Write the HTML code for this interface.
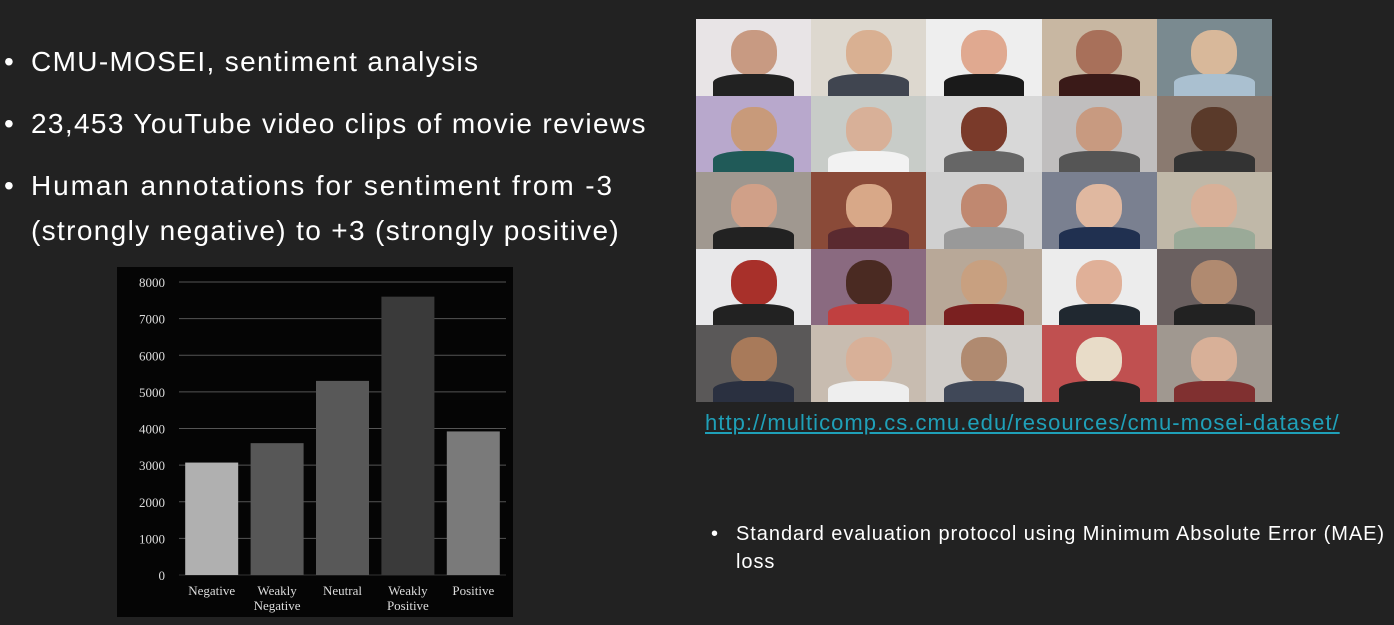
<!DOCTYPE html>
<html><head><meta charset="utf-8"><style>
body{margin:0;width:1394px;height:625px;background:#222222;position:relative;overflow:hidden;font-family:"Liberation Sans",sans-serif;color:#fff}
.b{position:absolute;font-size:28px;line-height:45px;letter-spacing:1.35px;white-space:nowrap}
.grid{position:absolute;left:696px;top:19px;width:576px;height:383px;display:grid;grid-template-columns:repeat(5,1fr);grid-template-rows:repeat(5,1fr)}
.t{position:relative;overflow:hidden}
.t i{position:absolute;left:30%;top:15%;width:40%;height:60%;border-radius:45%;background:#c99a80}
.t u{position:absolute;left:15%;bottom:0;width:70%;height:28%;border-radius:40% 40% 0 0;background:#2a2a2a}
</style></head><body>
<div class="b" style="left:4px;top:39px">•</div>
<div class="b" style="left:31px;top:39px">CMU-MOSEI, sentiment analysis</div>
<div class="b" style="left:4px;top:101px">•</div>
<div class="b" style="left:31px;top:101px">23,453 YouTube video clips of movie reviews</div>
<div class="b" style="left:4px;top:163px">•</div>
<div class="b" style="left:31px;top:163px;letter-spacing:1.9px">Human annotations for sentiment from -3</div>
<div class="b" style="left:31px;top:208px">(strongly negative) to +3 (strongly positive)</div>
<svg id="chart" style="position:absolute;left:117px;top:267px" width="396" height="350"></svg>
<div class="grid" id="grid"></div>
<div style="position:absolute;left:705px;top:410px;font-size:22px;letter-spacing:1.05px;color:#1fa0b8;text-decoration:underline;white-space:nowrap">http://multicomp.cs.cmu.edu/resources/cmu-mosei-dataset/</div>
<div style="position:absolute;left:711px;top:520px;font-size:20px;line-height:28px;letter-spacing:1px;white-space:nowrap">•</div>
<div style="position:absolute;left:736px;top:520px;font-size:20px;line-height:28px;letter-spacing:0.95px;white-space:nowrap">Standard evaluation protocol using Minimum Absolute Error (MAE)<br>loss</div>
<script>
const categories=[["Negative"],["Weakly","Negative"],["Neutral"],["Weakly","Positive"],["Positive"]];
const values=[3070,3600,5300,7600,3920];
const ticks=[0,1000,2000,3000,4000,5000,6000,7000,8000];
const colors=["#b0b0b0","#575757","#585858","#3a3a3a","#7a7a7a"];
const NS="http://www.w3.org/2000/svg";
const svg=document.getElementById('chart');
function mk(t,a){const e=document.createElementNS(NS,t);for(const k in a)e.setAttribute(k,a[k]);svg.appendChild(e);return e;}
const x0=62,x1=389,y0=308,y1=15;
const y=v=>y0-(v/8000)*(y0-y1);
const band=(x1-x0)/categories.length;
const bg=mk('rect',{x:0,y:0,width:396,height:350,fill:'#050505'});


ticks.forEach(t=>{
 const l=mk('line',{x1:x0,x2:x1,y1:y(t),y2:y(t),stroke:t===0?'#333':'#555','stroke-width':1});
 
 
 const tx=mk('text',{x:48,y:y(t)+5,'text-anchor':'end',fill:'#ddd','font-size':13,'font-family':'Liberation Serif,serif'});
 tx.textContent=t;
 
 
});
values.forEach((v,i)=>{
 const cx=x0+band*(i+0.5);
 const r=mk('rect',{x:cx-26.5,y:y(v),width:53,height:y0-y(v),fill:colors[i]});
 
 
 categories[i].forEach((s,j)=>{
  const tx=mk('text',{x:cx,y:328+j*15,'text-anchor':'middle',fill:'#ddd','font-size':13,'font-family':'Liberation Serif,serif'});
  tx.textContent=s;
  
  
 });
});
const tiles=[["#e8e4e6","#c89a82","#222"],["#ddd8cf","#d9b092","#404550"],["#eeeeee","#e0a990","#1a1a1a"],["#c8b7a2","#a8705a","#3a1a18"],["#7a8a90","#d8b89a","#aac0d0"],
["#b8a8cc","#c89a7a","#205a58"],["#c8ccc8","#d8b098","#f2f2f2"],["#d8d8d8","#7a3a2a","#666"],["#c0bebe","#c89a80","#555"],["#8a7a70","#5a3a2a","#333"],
["#a09890","#d0a088","#222"],["#8a4a38","#d8a888","#5a2a30"],["#d0d0d0","#c08870","#999"],["#7a8090","#e0b8a0","#203050"],["#c0b8a8","#d8b098","#9aaa98"],
["#e8e8ea","#a8302a","#222"],["#8a6a80","#4a2a22","#c04040"],["#b8a898","#c8a080","#7a2020"],["#ececec","#e0b098","#202830"],["#6a6060","#b08a70","#222"],
["#5a5858","#a87a5a","#2a3040"],["#c8bcb0","#d8b098","#eee"],["#d0ccc8","#b08a70","#404858"],["#c05050","#e8dcc8","#222"],["#a09890","#d8b098","#803030"]];
const g=document.getElementById('grid');
tiles.forEach((c,i)=>{
 const d=document.createElement('div');
 d.className='t';d.style.background=c[0];
 
 
 d.innerHTML='<i style="background:'+c[1]+'"></i><u style="background:'+c[2]+'"></u>';
 g.appendChild(d);
});
</script>
</body></html>
